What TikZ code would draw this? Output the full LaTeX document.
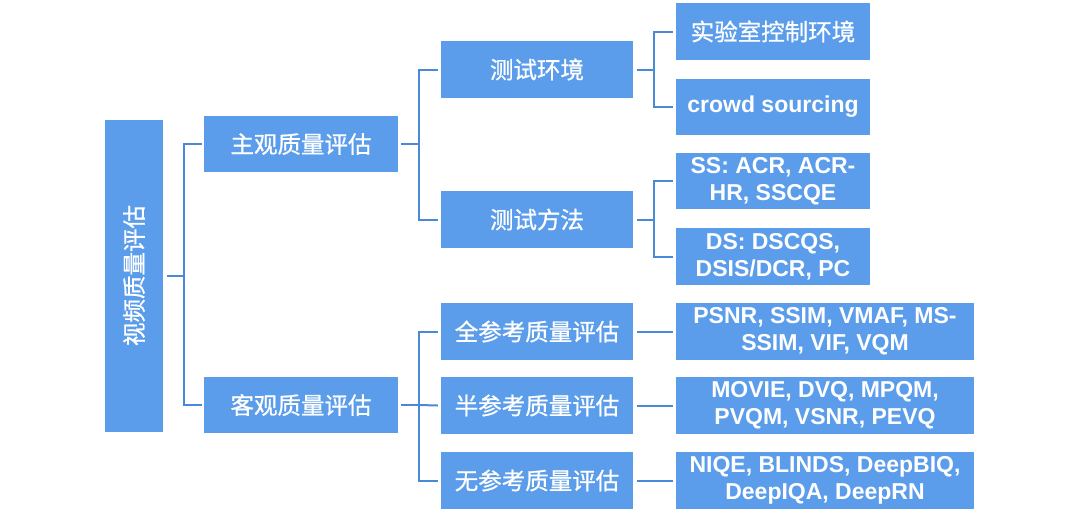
\documentclass[tikz,border=0pt]{standalone}
\usepackage{fontspec}
\setmainfont{Liberation Sans}
\newfontfamily\cjk{Noto Sans CJK SC}[FakeBold=0.8]
\definecolor{boxblue}{HTML}{5B9DEA}
\definecolor{lineblue}{HTML}{4A88D8}
\begin{document}
\begin{tikzpicture}[x=1pt,y=-1pt,
  box/.style={draw=none, fill=boxblue, text=white, inner sep=0pt, align=center,
    minimum height=57pt, font=\fontsize{23.5}{27}\selectfont\cjk},
  lbox/.style={box, font=\fontsize{23}{27}\selectfont\bfseries},
  conn/.style={draw=lineblue, line width=2pt}]
\useasboundingbox (0,0) rectangle (1080,523);
\fill[white] (0,0) rectangle (1080,523);
% level 1
\node[box, rotate=90, minimum width=312pt, minimum height=58pt] (root) at (134,275.5) {视频质量评估};
% level 2
\node[box, minimum width=194pt, minimum height=56pt] (zg) at (301,144) {主观质量评估};
\node[box, minimum width=194pt, minimum height=56pt] (kg) at (301,405) {客观质量评估};
% level 3
\node[box, minimum width=192pt] (hj) at (537,69.5) {测试环境};
\node[box, minimum width=192pt] (ff) at (537,219.5) {测试方法};
\node[box, minimum width=192pt] (qc) at (537,331.5) {全参考质量评估};
\node[box, minimum width=192pt] (bc) at (537,405.5) {半参考质量评估};
\node[box, minimum width=192pt] (wc) at (537,480.5) {无参考质量评估};
% level 4
\node[box, minimum width=194pt] (sy) at (773,31.5) {实验室控制环境};
\node[lbox, minimum width=194pt, minimum height=56pt] (cs) at (773,107) {crowd sourcing};
\node[lbox, minimum width=194pt, minimum height=56pt] (ss) at (773,181) {SS: ACR, ACR-\\HR, SSCQE};
\node[lbox, minimum width=194pt] (ds) at (773,256.5) {DS: DSCQS,\\DSIS/DCR, PC};
\node[lbox, minimum width=298pt] (ps) at (825,331.5) {PSNR, SSIM, VMAF, MS-\\SSIM, VIF, VQM};
\node[lbox, minimum width=298pt] (mv) at (825,405.5) {MOVIE, DVQ, MPQM,\\PVQM, VSNR, PEVQ};
\node[lbox, minimum width=298pt] (nq) at (825,480.5) {NIQE, BLINDS, DeepBIQ,\\DeepIQA, DeepRN};
% connectors
\draw[conn] ([xshift=4pt]root.south) -- ++(17pt,0) coordinate (r1);
\draw[conn] ([xshift=-2pt]zg.west) -| (r1) |- ([xshift=-2pt]kg.west);
\draw[conn] ([xshift=3pt]zg.east) -- ++(18pt,0) coordinate (z1);
\draw[conn] ([xshift=-3pt]hj.west) -| (z1) |- ([xshift=-3pt]ff.west);
\draw[conn] ([xshift=3pt]kg.east) -- ++(18pt,0) coordinate (k1);
\draw[conn] ([xshift=-3pt]qc.west) -| (k1) |- ([xshift=-3pt]wc.west);
\draw[conn] (k1) -- ([xshift=-3pt]bc.west);
\draw[conn] ([xshift=4pt]hj.east) -- ++(17pt,0) coordinate (h1);
\draw[conn] ([xshift=-3pt]sy.west) -| (h1) |- ([xshift=-3pt]cs.west);
\draw[conn] ([xshift=4pt]ff.east) -- ++(17pt,0) coordinate (f1);
\draw[conn] ([xshift=-3pt]ss.west) -| (f1) |- ([xshift=-3pt]ds.west);
\draw[conn] ([xshift=4pt]qc.east) -- ([xshift=-3pt]ps.west);
\draw[conn] ([xshift=4pt]bc.east) -- ([xshift=-3pt]mv.west);
\draw[conn] ([xshift=4pt]wc.east) -- ([xshift=-3pt]nq.west);
\end{tikzpicture}
\end{document}
